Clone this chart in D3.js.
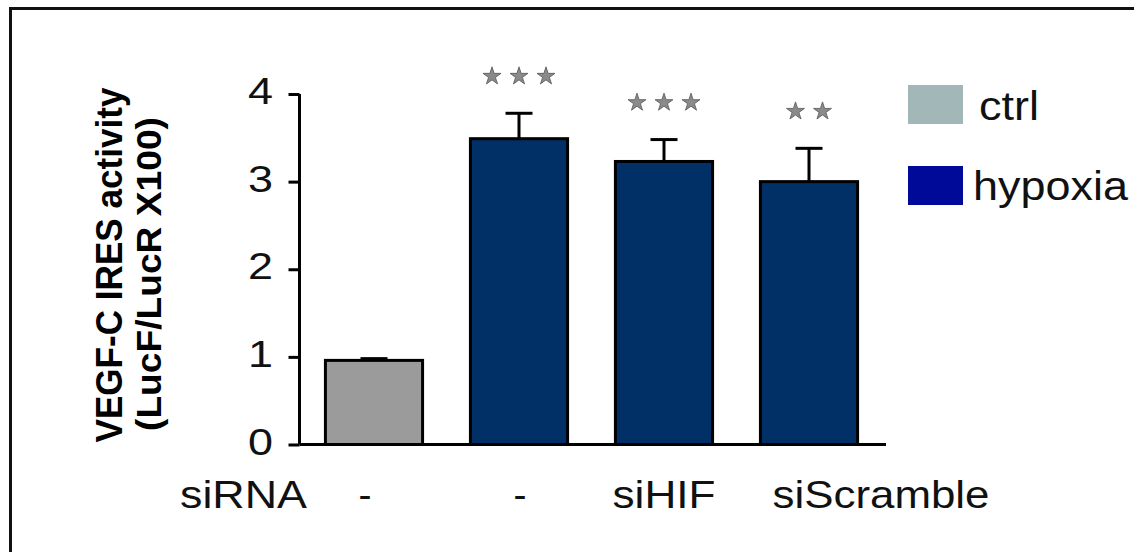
<!DOCTYPE html>
<html><head><meta charset="utf-8">
<script src="https://cdn.jsdelivr.net/npm/d3@7"></script>
<style>body{margin:0;background:#fff}svg{display:block}text{font-family:"Liberation Sans",Arial,sans-serif}</style>
</head><body>
<svg id="c" width="1134" height="552"></svg>
<script>
const categories = ["-", "-", "siHIF", "siScramble"];
const groups = ["ctrl", "hypoxia", "hypoxia", "hypoxia"];
const values = [0.96, 3.49, 3.23, 3.00];
const errors = [0.02, 0.29, 0.25, 0.38];
const stars = [0, 3, 3, 2];
const yTicks = [0, 1, 2, 3, 4];
const legendLabels = ["ctrl", "hypoxia"];
const legendColors = ["#a2b8b8", "#000a99"];
const barColors = {ctrl: "#9b9b9b", hypoxia: "#003066"};

const svg = d3.select("#c");
// frame
svg.append("path").attr("d", "M10.5,560 V8.5 H1140").attr("fill","none").attr("stroke","#111").attr("stroke-width",3);

const y = d3.scaleLinear().domain([0,4]).range([444.5, 94]);
const x = d3.scaleBand().domain(d3.range(categories.length)).range([301.5, 881.5]).paddingInner(0.33).paddingOuter(0.165);

// y axis
const yAxis = d3.axisLeft(y).tickValues(yTicks).tickSize(11).tickPadding(15).tickFormat(d3.format("d"));
const ga = svg.append("g").attr("transform","translate(299.5,0)").call(yAxis);
ga.select(".domain").attr("d", `M0,${y(4)}V${y(0)}`).attr("stroke","#000").attr("stroke-width",3);
ga.selectAll(".tick line").attr("stroke","#000").attr("stroke-width",3);
ga.selectAll(".tick text").attr("font-size",37).attr("fill","#111").attr("font-family",'"Liberation Sans",Arial,sans-serif')
  .attr("x",-26.5).attr("dy","9.5px").attr("textLength",25).attr("lengthAdjust","spacingAndGlyphs");

// bars
const bw = x.bandwidth();
svg.append("g").selectAll("rect").data(values).join("rect")
  .attr("x",(d,i)=>x(i)).attr("width",bw)
  .attr("y",d=>y(d)).attr("height",d=>y(0)-y(d))
  .attr("fill",(d,i)=>barColors[groups[i]]).attr("stroke","#000").attr("stroke-width",3);

// error bars
const eg = svg.append("g").attr("stroke","#000").attr("stroke-width",3);
values.forEach((v,i)=>{
  const cx = x(i)+bw/2;
  eg.append("line").attr("x1",cx).attr("x2",cx).attr("y1",y(v)).attr("y2",y(v+errors[i]));
  eg.append("line").attr("x1",cx-13.5).attr("x2",cx+13.5).attr("y1",y(v+errors[i])).attr("y2",y(v+errors[i]));
});

// baseline
svg.append("line").attr("x1",299.5).attr("x2",886).attr("y1",y(0)).attr("y2",y(0)).attr("stroke","#000").attr("stroke-width",3);

// stars
const starSym = d3.symbol().type(d3.symbolStar).size(100);
const sg = svg.append("g");
values.forEach((v,i)=>{
  const n = stars[i]; if(!n) return;
  const cx = x(i)+bw/2;
  const sy = y(v+errors[i]) - 37;
  for(let k=0;k<n;k++){
    const sx = cx + (k-(n-1)/2)*27;
    sg.append("path").attr("d",starSym()).attr("transform",`translate(${sx},${sy})`)
      .attr("fill","#8a8a8a").attr("stroke","#555").attr("stroke-width",0.8);
  }
});

// x labels
const xl = svg.append("g").attr("font-size",38.5).attr("fill","#111");
xl.append("text").attr("x",180).attr("y",508).attr("textLength",127).attr("lengthAdjust","spacingAndGlyphs").text("siRNA");
const dashOffsets = [-9, 1];
categories.forEach((c,i)=>{
  const cx = x(i)+bw/2;
  const t = xl.append("text").attr("x",cx).attr("y",508).attr("text-anchor","middle").text(c);
  if(c==="siHIF") t.attr("textLength",103).attr("lengthAdjust","spacingAndGlyphs");
  if(c==="siScramble") t.attr("x",881).attr("textLength",217).attr("lengthAdjust","spacingAndGlyphs");
  if(c==="-") t.attr("x",cx+dashOffsets[i]).attr("textLength",13).attr("lengthAdjust","spacingAndGlyphs");
});

// y title
const yt = svg.append("g").attr("font-weight","bold").attr("fill","#000").attr("text-anchor","middle");
yt.append("text").attr("transform","translate(121.5,265) rotate(-90)").attr("font-size",37).attr("textLength",355).attr("lengthAdjust","spacingAndGlyphs").text("VEGF-C IRES activity");
yt.append("text").attr("transform","translate(160.5,274) rotate(-90)").attr("font-size",35).attr("textLength",314).attr("lengthAdjust","spacingAndGlyphs").text("(LucF/LucR X100)");

// legend
const lg = svg.append("g");
const ly = [85, 166];
legendLabels.forEach((l,i)=>{
  lg.append("rect").attr("x",908).attr("y",ly[i]).attr("width",55).attr("height",39).attr("fill",legendColors[i]);
  lg.append("text").attr("x", i===0?979:973).attr("y", ly[i]+35 - (i===0?0:1)).attr("font-size",40).attr("fill","#111")
    .attr("textLength", i===0?60:155).attr("lengthAdjust","spacingAndGlyphs").text(l);
});
</script>
</body></html>
